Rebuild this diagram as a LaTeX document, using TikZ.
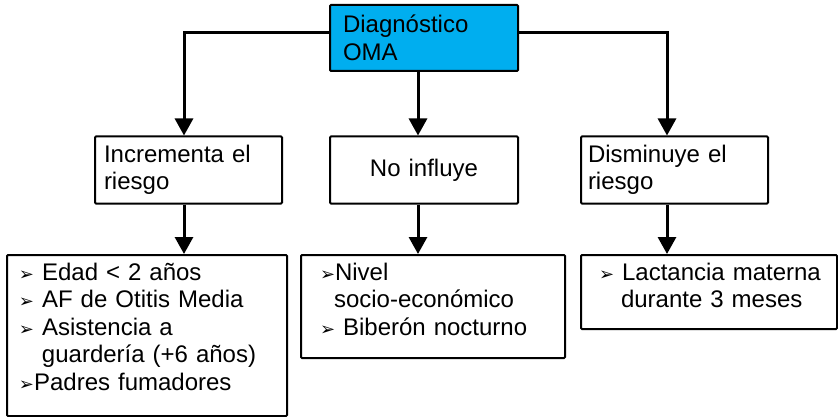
\documentclass[tikz,border=0pt]{standalone}
\usepackage{fontspec}
\setmainfont{Liberation Sans}
\newfontfamily\symfont{DejaVu Sans}
\usetikzlibrary{arrows.meta}
\tikzset{
    box/.style={draw, line width=2pt, rounded corners=1pt, inner ysep=0pt, align=left},
    list/.style={box, anchor=north, inner ysep=7.5pt, text height=17.5pt},
    flow/.style={line width=3pt, -{Triangle[width=18pt,length=17pt]}}
}
\definecolor{omablue}{RGB}{0,174,239}
\newcommand{\flecha}{{\symfont\fontsize{18}{18}\selectfont ➢}}

\begin{document}
\begin{tikzpicture}[x=1pt, y=1pt, every node/.style={font=\fontsize{24}{27.5}\selectfont}]
    % Init
    \useasboundingbox (0,0) rectangle (838,-417);
    % 1. def boxes
    \node[box, fill=omablue, minimum width=188pt, minimum height=66pt, text width=162pt, inner xsep=13pt]
        (diag) at (424,-38) {Diagnóstico\\OMA};
    \node[box, minimum width=187pt, minimum height=67pt, text width=169pt, inner xsep=9pt]
        (incr) at (188.5,-170) {Incrementa el\\riesgo};
    \node[box, align=center, minimum width=188pt, minimum height=67pt, text width=170pt, inner xsep=9pt]
        (noinf) at (424,-170) {No influye};
    \node[box, minimum width=187pt, minimum height=67pt, text width=173pt, inner xsep=7pt]
        (dism) at (674.5,-170) {Disminuye el\\riesgo};
    % 2. def lists
    \node[list, text width=256pt, inner xsep=12pt, text depth=128.5pt] (incrlist) at (147,-254)
        {\flecha{} Edad < 2 años\\\flecha{} AF de Otitis Media\\\flecha{} Asistencia a\\\hspace*{23pt}guardería (+6 años)\\\flecha{}Padres fumadores};
    \node[list, text width=226pt, inner xsep=19pt, text depth=70.5pt] (noinflist) at (433,-254)
        {\flecha{}Nivel\\\hspace*{14pt}socio-económico\\\flecha{} Biberón nocturno};
    \node[list, text width=240pt, inner xsep=8pt, text depth=41.5pt] (dismlist) at (709,-254)
        {\hspace*{10pt}\flecha{} Lactancia materna\\\hspace*{32pt}durante 3 meses};
    % 3. draw arrows
    \draw[flow] ([yshift=5pt]diag.west) -| ([xshift=-4.5pt]incr.north);
    \draw[flow] ([yshift=5pt]diag.east) -| ([xshift=-7.5pt]dism.north);
    \draw[flow] ([xshift=-6pt]diag.south) -- ([xshift=-6pt]noinf.north);
    \draw[flow] ([xshift=-4.5pt]incr.south) -- ([xshift=-4.5pt]incr.south |- incrlist.north);
    \draw[flow] ([xshift=-6pt]noinf.south) -- ([xshift=-6pt]noinf.south |- noinflist.north);
    \draw[flow] ([xshift=-7.5pt]dism.south) -- ([xshift=-7.5pt]dism.south |- dismlist.north);
\end{tikzpicture}
\end{document}
